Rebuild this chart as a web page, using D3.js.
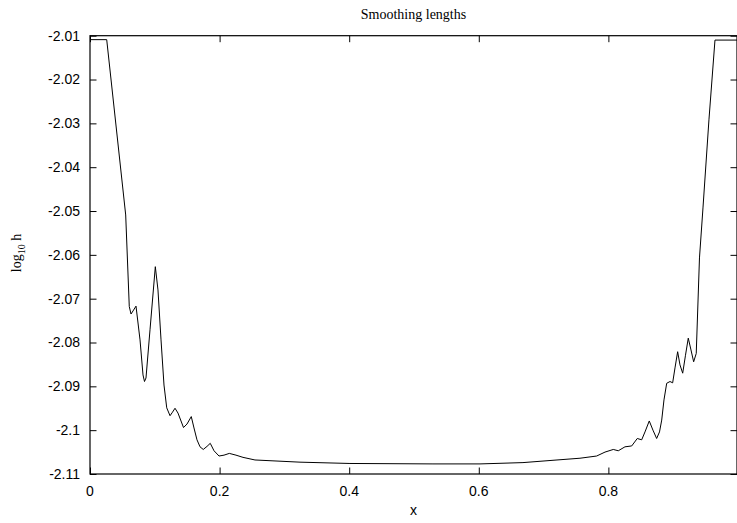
<!DOCTYPE html>
<html lang="en">
<head>
    <meta charset="UTF-8">
    <title>Smoothing lengths</title>
    <style>
        body { margin: 0; background: #fff; }
        .tick-label { font-family: "Liberation Sans", Arial, sans-serif; font-size: 14px; fill: #000; }
        .title, .y.label { font-family: "Liberation Serif", "Times New Roman", serif; font-size: 14px; fill: #000; }
        .x.label { font-family: "Liberation Sans", Arial, sans-serif; font-size: 14px; fill: #000; }
    </style>
</head>
<body>
<svg height="523" width="737"></svg>

<script src="https://d3js.org/d3.v7.min.js"></script>
<script>

    // x positions and log10 h values
    var xValues = [0, 0.0258, 0.0551, 0.0606, 0.0633, 0.0664, 0.0710, 0.0772, 0.0818, 0.0841,
        0.0864, 0.0926, 0.1008, 0.1049, 0.1096, 0.1142, 0.1184, 0.1235, 0.1273, 0.1312,
        0.1358, 0.1443, 0.1497, 0.1563, 0.1605, 0.1651, 0.1698, 0.1748, 0.1806, 0.1856,
        0.1914, 0.1991, 0.2068, 0.2150, 0.2253, 0.2361, 0.2546, 0.2824, 0.3241, 0.4012,
        0.5293, 0.6019, 0.6682, 0.7207, 0.7562, 0.7819, 0.7948, 0.8076, 0.8153, 0.8256,
        0.8360, 0.8446, 0.8514, 0.8565, 0.8631, 0.8688, 0.8745, 0.8789, 0.8823, 0.8858,
        0.8900, 0.8951, 0.8992, 0.9028, 0.9069, 0.9105, 0.9147, 0.9190, 0.9233, 0.9275,
        0.9316, 0.9356, 0.9406, 0.9460, 0.9552, 0.9645, 0.9985];

    var logH = [-2.0109, -2.0109, -2.0509, -2.0718, -2.0735, -2.0728, -2.0717, -2.0794, -2.0874, -2.0889,
        -2.0881, -2.0771, -2.0627, -2.0680, -2.0794, -2.0897, -2.0949, -2.0967, -2.0959, -2.0950,
        -2.0961, -2.0994, -2.0986, -2.0969, -2.0995, -2.1022, -2.1038, -2.1044, -2.1037, -2.1030,
        -2.1047, -2.1059, -2.1057, -2.1053, -2.1057, -2.1062, -2.1068, -2.1070, -2.1073, -2.1076,
        -2.1077, -2.1077, -2.1074, -2.1068, -2.1064, -2.1059, -2.1050, -2.1044, -2.1047, -2.1038,
        -2.1036, -2.1019, -2.1022, -2.1004, -2.0979, -2.1000, -2.1019, -2.1004, -2.0977, -2.0931,
        -2.0893, -2.0889, -2.0892, -2.0858, -2.0821, -2.0851, -2.0870, -2.0829, -2.0790, -2.0817,
        -2.0844, -2.0825, -2.0607, -2.0493, -2.0292, -2.0110, -2.0110];

    var xTicks = [0, 0.2, 0.4, 0.6, 0.8];
    var xTickLabels = ["0", "0.2", "0.4", "0.6", "0.8"];
    var yTicks = [-2.01, -2.02, -2.03, -2.04, -2.05, -2.06, -2.07, -2.08, -2.09, -2.1, -2.11];
    var yTickLabels = ["-2.01", "-2.02", "-2.03", "-2.04", "-2.05", "-2.06", "-2.07", "-2.08", "-2.09", "-2.1", "-2.11"];

    function translate(x, y) { return "translate(" + x + "," + y + ")"; }

    var svg = d3.select("svg"),
        margins = {top: 35.7, right: 0, bottom: 49, left: 90};

    var width = +svg.attr("width") - margins.left - margins.right;
    var height = +svg.attr("height") - margins.top - margins.bottom;

    var xScale = d3.scaleLinear().domain([0, 0.9985]).range([margins.left, margins.left + width]);
    var yScale = d3.scaleLinear().domain([-2.11, -2.01]).range([margins.top + height, margins.top]);

    var tickLen = 6.5;

    // inward ticks, mirrored on all four sides like gnuplot
    svg.append("g")
        .attr("transform", translate(0, yScale(-2.11)))
        .call(d3.axisBottom(xScale).tickValues(xTicks).tickSizeInner(-tickLen).tickSizeOuter(0).tickFormat(""))
        .call(function(g) { g.select(".domain").remove(); });

    svg.append("g")
        .attr("transform", translate(0, yScale(-2.01)))
        .call(d3.axisTop(xScale).tickValues(xTicks).tickSizeInner(-tickLen).tickSizeOuter(0).tickFormat(""))
        .call(function(g) { g.select(".domain").remove(); });

    svg.append("g")
        .attr("transform", translate(xScale(0), 0))
        .call(d3.axisLeft(yScale).tickValues(yTicks).tickSizeInner(-tickLen).tickSizeOuter(0).tickFormat(""))
        .call(function(g) { g.select(".domain").remove(); });

    svg.append("g")
        .attr("transform", translate(xScale(0.9985), 0))
        .call(d3.axisRight(yScale).tickValues(yTicks).tickSizeInner(-tickLen).tickSizeOuter(0).tickFormat(""))
        .call(function(g) { g.select(".domain").remove(); });

    svg.selectAll(".tick line").attr("stroke", "#000");

    // frame
    svg.append("rect")
        .attr("x", xScale(0))
        .attr("y", yScale(-2.01))
        .attr("width", xScale(0.9985) - xScale(0))
        .attr("height", yScale(-2.11) - yScale(-2.01))
        .attr("fill", "none")
        .attr("stroke", "#000")
        .attr("stroke-width", 1.2);

    svg.selectAll(".xlab")
        .data(xTicks)
        .enter()
        .append("text")
        .attr("class", "tick-label")
        .attr("text-anchor", "middle")
        .attr("x", function(d) { return xScale(d); })
        .attr("y", 496)
        .text(function(d, i) { return xTickLabels[i]; });

    svg.selectAll(".ylab")
        .data(yTicks)
        .enter()
        .append("text")
        .attr("class", "tick-label")
        .attr("text-anchor", "end")
        .attr("x", 80)
        .attr("y", function(d) { return yScale(d); })
        .attr("dy", "0.35em")
        .text(function(d, i) { return yTickLabels[i]; });

    var points = xValues.map(function(x, i) { return [x, logH[i]]; });

    var line = d3.line()
        .x(function(d) { return xScale(d[0]); })
        .y(function(d) { return yScale(d[1]); });

    svg.append("path")
        .datum(points)
        .attr("d", line)
        .attr("fill", "none")
        .attr("stroke", "#000")
        .attr("stroke-width", 1)
        .attr("stroke-linejoin", "round");

    svg.append("text")
        .attr("class", "title")
        .attr("text-anchor", "middle")
        .attr("x", (xScale(0) + xScale(0.9985)) / 2)
        .attr("y", 19)
        .text("Smoothing lengths");

    svg.append("text")
        .attr("class", "x label")
        .attr("text-anchor", "middle")
        .attr("x", (xScale(0) + xScale(0.9985)) / 2)
        .attr("y", 515)
        .text("x");

    var yLabel = svg.append("text")
        .attr("class", "y label")
        .attr("text-anchor", "middle")
        .attr("transform", translate(21, 253) + " rotate(-90)");
    yLabel.append("tspan").text("log");
    yLabel.append("tspan").attr("font-size", "10px").attr("dy", 4).text("10");
    yLabel.append("tspan").attr("dy", -4).text(" h");

</script>
</body>
</html>
